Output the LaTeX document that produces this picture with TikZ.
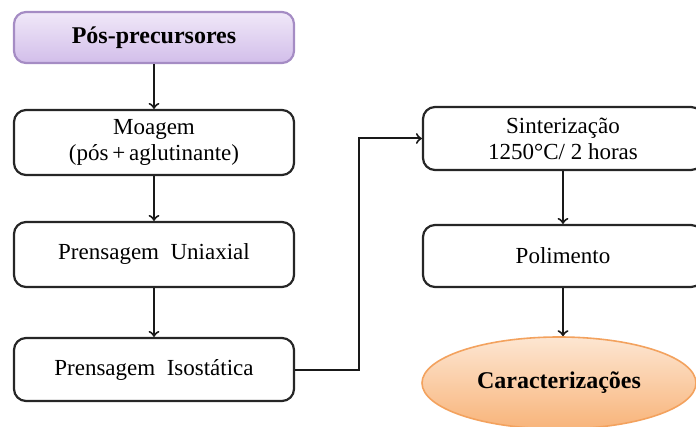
\documentclass[tikz,border=0pt]{standalone}
\usepackage{fontspec}
\setmainfont{Liberation Serif}
\usetikzlibrary{shapes.geometric}

\definecolor{lilasclaro}{HTML}{F0E8F8}
\definecolor{lilas}{HTML}{D2BEEA}
\definecolor{lilasborda}{HTML}{A58CC4}
\definecolor{pessego}{HTML}{FDE6D2}
\definecolor{laranja}{HTML}{F8B47A}
\definecolor{laranjaborda}{HTML}{F3A25E}

\tikzset{
  passo/.style={draw=black!85, line width=1.1pt, rounded corners=6pt, fill=white,
    minimum width=140pt, align=center, font=\fontsize{11.5}{13}\selectfont},
  inicio/.style={passo, draw=lilasborda, top color=lilasclaro, bottom color=lilas,
    font=\fontsize{12}{14}\selectfont\bfseries},
  fim/.style={ellipse, draw=laranjaborda, line width=0.8pt, top color=pessego,
    bottom color=laranja, minimum width=137pt, minimum height=46pt,
    font=\fontsize{12}{14}\selectfont\bfseries},
  seta/.style={->, line width=1pt, black!90}
}

\begin{document}
\begin{tikzpicture}[x=0.5pt, y=-0.5pt]
        \useasboundingbox (0,0) rectangle (696,427);

        % coluna da esquerda
        \node[inicio, minimum height=25.5pt] (pos) at (154,37.5) {Pós-precursores};
        \node[passo, minimum height=32.5pt] (moagem) at (154,142.5) {Moagem\\(pós\,+\,aglutinante)};
        \node[passo, minimum height=32.5pt] (uniaxial) at (154,254.5) {Prensagem\ \ Uniaxial};
        \node[passo, minimum height=31.5pt] (isostatica) at (154,369.5) {Prensagem\ \ Isostática};

        % coluna da direita
        \node[passo, minimum height=31.5pt] (sinter) at (563,138.5) {Sinterização\\1250°C/ 2 horas};
        \node[passo, minimum height=31pt] (polimento) at (563,256) {Polimento};
        \node[fim] (caract) at (559,383) {Caracterizações};

        % setas
        \draw[seta] (pos) -- (moagem);
        \draw[seta] (moagem) -- (uniaxial);
        \draw[seta] (uniaxial) -- (isostatica);
        \draw[seta] (isostatica.east) -- ++(64,0) |- (sinter.west);
        \draw[seta] (sinter) -- (polimento);
        \draw[seta] (polimento.south) -- (polimento.south |- caract.north);
      \end{tikzpicture}
\end{document}
